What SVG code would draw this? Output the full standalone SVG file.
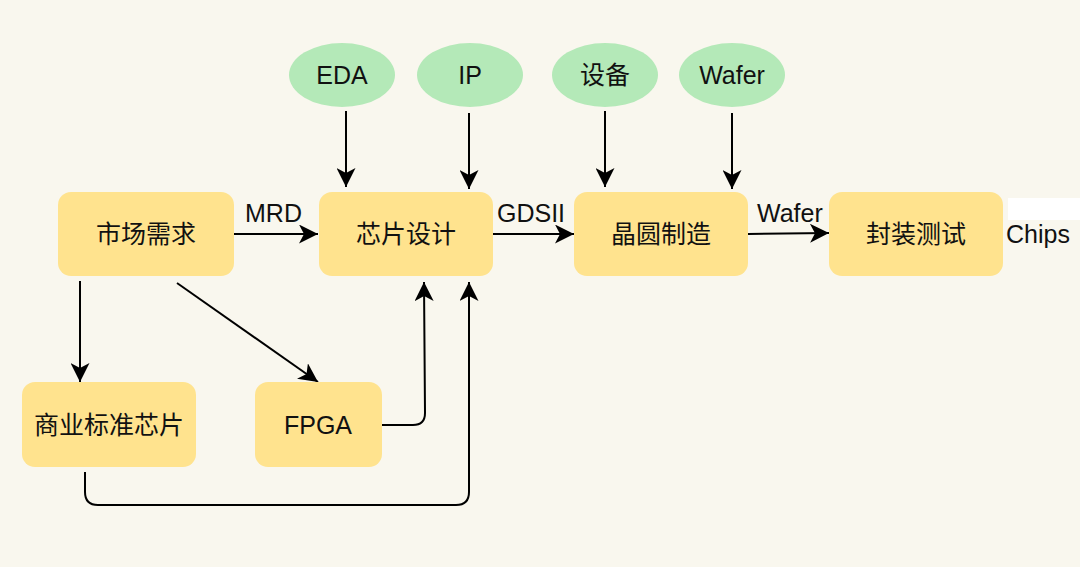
<svg xmlns="http://www.w3.org/2000/svg" width="1080" height="567" viewBox="0 0 1080 567">
<defs>
<marker id="arr" viewBox="0 0 19 19" refX="19" refY="9.5" markerWidth="19" markerHeight="19" markerUnits="userSpaceOnUse" orient="auto">
<path d="M0,0 L19,9.5 L0,19 L5,9.5 z" fill="#000"/>
</marker>
<style>
.box{fill:#ffe38e;}
.ell{fill:#b4e9b8;}
.t{font-family:"Liberation Sans","Noto Sans CJK SC",sans-serif;font-size:25px;fill:#111;text-anchor:middle;dominant-baseline:central;}
.lbl{font-family:"Liberation Sans","Noto Sans CJK SC",sans-serif;font-size:25px;fill:#111;}
.c{fill:none;stroke:#000;stroke-width:2;marker-end:url(#arr);}
</style>
</defs>
<rect width="1080" height="567" fill="#f9f7ee"/>
<rect x="1008" y="198" width="72" height="22" fill="#ffffff"/>
<g id="connectors">
<line class="c" x1="346" y1="111" x2="346" y2="187"/>
<line class="c" x1="469" y1="113" x2="469" y2="189"/>
<line class="c" x1="605" y1="111" x2="605" y2="187"/>
<line class="c" x1="732" y1="113" x2="732" y2="189"/>
<line class="c" x1="234" y1="234" x2="318" y2="234"/>
<line class="c" x1="493" y1="234" x2="574" y2="234"/>
<line class="c" x1="748" y1="234" x2="829" y2="233"/>
<line class="c" x1="80" y1="281" x2="80" y2="382"/>
<line class="c" x1="177" y1="283" x2="318" y2="382"/>
<path class="c" d="M382,425 L413,425 Q425,425 425,413 L424,282"/>
<path class="c" d="M85,472 L85,492 Q85,505 98,505 L456,505 Q469,505 469,492 L469,282"/>
</g>
<g id="lbl-mrd"><text class="lbl" x="245" y="222">MRD</text></g>
<g id="lbl-gdsii"><text class="lbl" x="497" y="222">GDSII</text></g>
<g id="lbl-wafer"><text class="lbl" x="757" y="222">Wafer</text></g>
<g id="lbl-chips"><text class="lbl" x="1006" y="243">Chips</text></g>
<g id="n-eda"><ellipse class="ell" cx="342" cy="75" rx="53" ry="32"/><text class="t" x="342" y="75">EDA</text></g>
<g id="n-ip"><ellipse class="ell" cx="470" cy="75" rx="53" ry="32"/><text class="t" x="470" y="75">IP</text></g>
<g id="n-equip"><ellipse class="ell" cx="605" cy="75" rx="53" ry="32"/><text class="t" x="605" y="75">设备</text></g>
<g id="n-wafer"><ellipse class="ell" cx="732" cy="75" rx="53" ry="32"/><text class="t" x="732" y="75">Wafer</text></g>
<g id="n-market"><rect class="box" x="58" y="192" width="176" height="84" rx="13"/><text class="t" x="146" y="234">市场需求</text></g>
<g id="n-design"><rect class="box" x="319" y="192" width="174" height="84" rx="13"/><text class="t" x="406" y="234">芯片设计</text></g>
<g id="n-fab"><rect class="box" x="574" y="192" width="174" height="84" rx="13"/><text class="t" x="661" y="234">晶圆制造</text></g>
<g id="n-package"><rect class="box" x="829" y="192" width="174" height="84" rx="13"/><text class="t" x="916" y="234">封装测试</text></g>
<g id="n-standard"><rect class="box" x="22" y="382" width="174" height="85" rx="13"/><text class="t" x="109" y="425">商业标准芯片</text></g>
<g id="n-fpga"><rect class="box" x="255" y="382" width="127" height="85" rx="13"/><text class="t" x="318" y="425">FPGA</text></g>
</svg>
